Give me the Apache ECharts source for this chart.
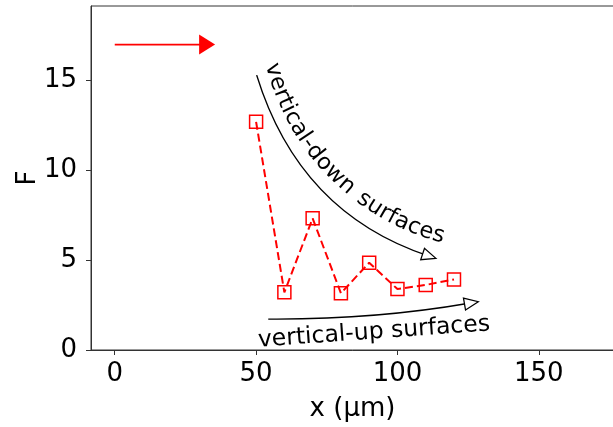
<!DOCTYPE html>
<html>
<head>
<meta charset="utf-8">
<script src="https://cdn.jsdelivr.net/npm/echarts@6/dist/echarts.min.js"></script>
<style>
  html, body { margin: 0; padding: 0; background: #fff; }
  #chart { width: 613px; height: 427px; }
</style>
</head>
<body>
<div id="chart"></div>
<script>
// Measured F values along x (µm)
const xValues = [50, 60, 70, 80, 90, 100, 110, 120];
const fValues = [12.70, 3.21, 7.33, 3.16, 4.86, 3.39, 3.62, 3.93];

// Tick labels
const xTicks = [0, 50, 100, 150];
const yTicks = [0, 5, 10, 15];

// Annotation anchors in data units
const redArrow = { from: [0, 17], to: [35.5, 17] };
const downArrow = { from: [50.2, 15.3], ctrl: [65.2, 7.63], to: [113.6, 5.1] };
const upArrow = { from: [54.3, 1.72], ctrl: [91.7, 1.68], to: [128.6, 2.69] };
// curved caption: circular arc through first-glyph centre, a middle point and last-glyph centre
const downTextArc = [[56.08, 15.58], [77.9, 9.74], [113.86, 6.40]];
const downText = 'vertical-down surfaces';
const upText = 'vertical-up surfaces';
const upTextAnchor = [91.7, 0.98];

const FONT = 'DejaVu Sans';
const CURVE_SIZE = 22.5;
const UP_SIZE = 23.5;
const WORD_GAP = 2;

const chart = echarts.init(document.getElementById('chart'));

const measureCtx = document.createElement('canvas').getContext('2d');
measureCtx.font = CURVE_SIZE + 'px "' + FONT + '"';

function arrowHead(tip, dir, len, halfW, fill, stroke) {
  const ux = dir[0], uy = dir[1];
  const bx = tip[0] - ux * len, by = tip[1] - uy * len;
  return {
    type: 'polygon',
    shape: { points: [tip, [bx - uy * halfW, by + ux * halfW], [bx + uy * halfW, by - ux * halfW]] },
    style: { fill: fill, stroke: stroke, lineWidth: stroke ? 1.3 : 0 },
    z2: 10
  };
}

function unit(v) {
  const l = Math.hypot(v[0], v[1]);
  return [v[0] / l, v[1] / l];
}

function curvedArrow(spec, api) {
  const p0 = api.coord(spec.from), c = api.coord(spec.ctrl), p1 = api.coord(spec.to);
  const dir = unit([p1[0] - c[0], p1[1] - c[1]]);
  return [
    {
      type: 'bezierCurve',
      shape: { x1: p0[0], y1: p0[1], cpx1: c[0], cpy1: c[1], x2: p1[0] - dir[0] * 8, y2: p1[1] - dir[1] * 8 },
      style: { stroke: '#000', lineWidth: 1.4, fill: null }
    },
    arrowHead(p1, dir, 14, 6, '#fff', '#000')
  ];
}

// circle through three pixel points
function circumcircle(a, b, c) {
  const d = 2 * (a[0] * (b[1] - c[1]) + b[0] * (c[1] - a[1]) + c[0] * (a[1] - b[1]));
  const a2 = a[0] * a[0] + a[1] * a[1], b2 = b[0] * b[0] + b[1] * b[1], c2 = c[0] * c[0] + c[1] * c[1];
  const ux = (a2 * (b[1] - c[1]) + b2 * (c[1] - a[1]) + c2 * (a[1] - b[1])) / d;
  const uy = (a2 * (c[0] - b[0]) + b2 * (a[0] - c[0]) + c2 * (b[0] - a[0])) / d;
  return { cx: ux, cy: uy, r: Math.hypot(a[0] - ux, a[1] - uy) };
}

function textAlongArc(text, pts) {
  const circ = circumcircle(pts[0], pts[1], pts[2]);
  const th0 = Math.atan2(pts[0][1] - circ.cy, pts[0][0] - circ.cx);
  const th2 = Math.atan2(pts[2][1] - circ.cy, pts[2][0] - circ.cx);
  const sgn = th2 < th0 ? -1 : 1;
  const out = [];
  const firstHalf = measureCtx.measureText(text[0]).width / 2;
  let s = 0;
  for (const ch of text) {
    let w = measureCtx.measureText(ch).width;
    if (ch === ' ') w += WORD_GAP;
    else {
      const th = th0 + sgn * (s + w / 2 - firstHalf) / circ.r;
      const x = circ.cx + circ.r * Math.cos(th);
      const y = circ.cy + circ.r * Math.sin(th);
      const tx = -Math.sin(th) * sgn, ty = Math.cos(th) * sgn;
      out.push({
        type: 'text',
        x: x, y: y,
        rotation: -Math.atan2(ty, tx),
        style: {
          text: ch, x: 0, y: 0,
          fontSize: CURVE_SIZE, fontFamily: FONT, fill: '#000',
          align: 'center', verticalAlign: 'middle'
        },
        z2: 5
      });
    }
    s += w;
  }
  return out;
}

function renderAnnotations(params, api) {
  const children = [];
  // red horizontal arrow
  const r0 = api.coord(redArrow.from), r1 = api.coord(redArrow.to);
  children.push({
    type: 'line',
    shape: { x1: r0[0], y1: r0[1], x2: r1[0] - 14, y2: r1[1] },
    style: { stroke: '#ff0000', lineWidth: 1.7 }
  });
  children.push(arrowHead(r1, [1, 0], 16, 10, '#ff0000', null));

  // black curved arrows
  children.push(...curvedArrow(downArrow, api));
  children.push(...curvedArrow(upArrow, api));

  // captions
  children.push(...textAlongArc(downText, downTextArc.map(p => api.coord(p))));

  const up0 = api.coord(upArrow.from), up1 = api.coord(upArrow.to);
  const upAnchor = api.coord(upTextAnchor);
  children.push({
    type: 'text',
    x: upAnchor[0], y: upAnchor[1],
    rotation: -Math.atan2(up1[1] - up0[1], up1[0] - up0[0]) * 0.85,
    style: {
      text: upText, x: 0, y: 0,
      fontSize: UP_SIZE, fontFamily: FONT, fill: '#000',
      align: 'center', verticalAlign: 'middle'
    }
  });
  return { type: 'group', children: children };
}

const axisColor = '#333';
const tickFont = { fontSize: 26, fontFamily: FONT, color: '#000' };

chart.setOption({
  animation: false,
  backgroundColor: '#fff',
  grid: {
    left: 91, right: -1, top: 6, bottom: 77,
    containLabel: false,
    outerBoundsMode: 'none',
    show: true, borderColor: axisColor, borderWidth: 1, backgroundColor: 'transparent'
  },
  xAxis: {
    type: 'value',
    min: -8.4, max: 176.6,
    name: 'x (μm)',
    nameLocation: 'middle',
    nameGap: 59,
    nameMoveOverlap: false,
    nameTextStyle: { fontSize: 26, fontFamily: FONT, color: '#000', verticalAlign: 'middle' },
    axisLine: { show: true, onZero: false, lineStyle: { color: axisColor, width: 1 } },
    axisTick: { show: true, length: 5, lineStyle: { color: axisColor, width: 1 }, customValues: xTicks },
    axisLabel: Object.assign({ margin: 11, customValues: xTicks }, tickFont),
    splitLine: { show: false }
  },
  yAxis: {
    type: 'value',
    min: 0, max: 19.15,
    name: 'F',
    nameLocation: 'middle',
    nameGap: 63,
    nameMoveOverlap: false,
    nameTextStyle: { fontSize: 26, fontFamily: FONT, color: '#000', verticalAlign: 'middle' },
    axisLine: { show: true, onZero: false, lineStyle: { color: axisColor, width: 1 } },
    axisTick: { show: true, length: 5, lineStyle: { color: axisColor, width: 1 }, customValues: yTicks },
    axisLabel: Object.assign({ margin: 14, customValues: yTicks }, tickFont),
    splitLine: { show: false }
  },
  series: [
    {
      type: 'line',
      data: xValues.map((x, i) => [x, fValues[i]]),
      symbol: 'rect',
      symbolSize: 13,
      showAllSymbol: true,
      lineStyle: { color: '#ff0000', width: 2, type: [8, 4] },
      itemStyle: { color: 'transparent', borderColor: '#ff0000', borderWidth: 1.5 },
      emphasis: { disabled: true },
      z: 3
    },
    {
      type: 'custom',
      coordinateSystem: 'cartesian2d',
      data: [[0, 0]],
      renderItem: renderAnnotations,
      silent: true,
      clip: false,
      z: 4
    }
  ]
});
</script>
</body>
</html>
